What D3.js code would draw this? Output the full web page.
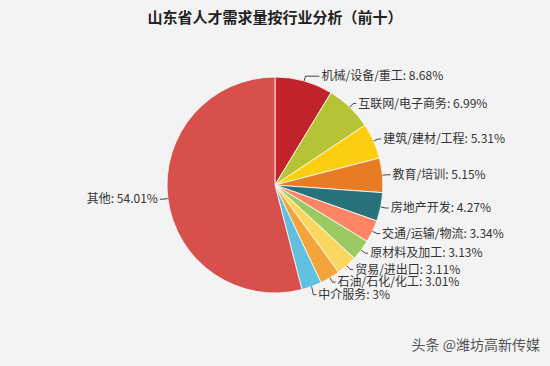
<!DOCTYPE html>
<html><head><meta charset="utf-8">
<script src="https://cdn.jsdelivr.net/npm/d3@7"></script>
<style>html,body{margin:0;padding:0;background:#f3f3f3;}</style>
</head><body><svg id="c" width="550" height="366"></svg>
<script>
const title = "山东省人才需求量按行业分析（前十）";
const categories = ["机械/设备/重工","互联网/电子商务","建筑/建材/工程","教育/培训","房地产开发","交通/运输/物流","原材料及加工","贸易/进出口","石油/石化/化工","中介服务","其他"];
const values = [8.68,6.99,5.31,5.15,4.27,3.34,3.13,3.11,3.01,3,54.01];
const valueLabels = ["8.68%","6.99%","5.31%","5.15%","4.27%","3.34%","3.13%","3.11%","3.01%","3%","54.01%"];
const colors = ['#C1232B','#B5C334','#FCCE10','#E87C25','#27727B','#FE8463','#9BCA63','#FAD860','#F3A43B','#60C0DD','#D7504B'];
const watermark = "头条 @潍坊高新传媒";

const svg = d3.select("#c");
const W = 550, H = 366, cx = 275, cy = 185, r = 108;
const font = "'Noto Sans CJK SC','Microsoft YaHei',sans-serif";
svg.append("rect").attr("width",W).attr("height",H).attr("fill","#f3f3f3");

svg.append("text").attr("x",cx).attr("y",23).attr("text-anchor","middle")
  .attr("font-family",font).attr("font-size",15).attr("font-weight","bold").attr("fill","#222")
  .text(title);

const data = categories.map((c,i)=>({name:c,value:values[i],label:valueLabels[i],color:colors[i]}));
const pie = d3.pie().value(d=>d.value).sort(null);
const arcs = pie(data);
const arc = d3.arc().innerRadius(0).outerRadius(r);
const g = svg.append("g").attr("transform",`translate(${cx},${cy})`);
g.selectAll("path").data(arcs).join("path")
  .attr("d",arc).attr("fill",d=>d.data.color).attr("stroke","#fff").attr("stroke-width",0.8);

// labels
const items = arcs.map(a=>{
  const m = (a.startAngle+a.endAngle)/2;
  const sx = Math.sin(m), sy = -Math.cos(m);
  return {a, m, right: sx>=0,
    p0:[sx*r, sy*r],
    ex: sx*(r+5), ey: sy*(r+5)};
});
// avoid overlap on right side
const rightItems = items.filter(d=>d.right).sort((p,q)=>p.ey-q.ey);
for(let i=1;i<rightItems.length;i++){
  if(rightItems[i].ey < rightItems[i-1].ey+12.5) rightItems[i].ey = rightItems[i-1].ey+12.5;
}
const lg = g.append("g");
items.forEach((d,i)=>{
  const dir = d.right?1:-1;
  const hx = d.ex + dir*(i===0?14:3);
  lg.append("polyline").attr("points",`${d.p0[0]},${d.p0[1]} ${d.ex},${d.ey} ${hx},${d.ey}`)
    .attr("fill","none").attr("stroke","#444").attr("stroke-width",1);
  lg.append("text").attr("x",hx+dir*2).attr("y",d.ey).attr("dy","0.35em")
    .attr("text-anchor",d.right?"start":"end")
    .attr("font-family",font).attr("font-size",12).attr("fill","#333")
    .text(`${d.a.data.name}: ${d.a.data.label}`);
});

svg.append("text").attr("x",540).attr("y",350).attr("text-anchor","end")
  .attr("font-family",font).attr("font-size",14).attr("fill","#555")
  .text(watermark);
</script></body></html>
